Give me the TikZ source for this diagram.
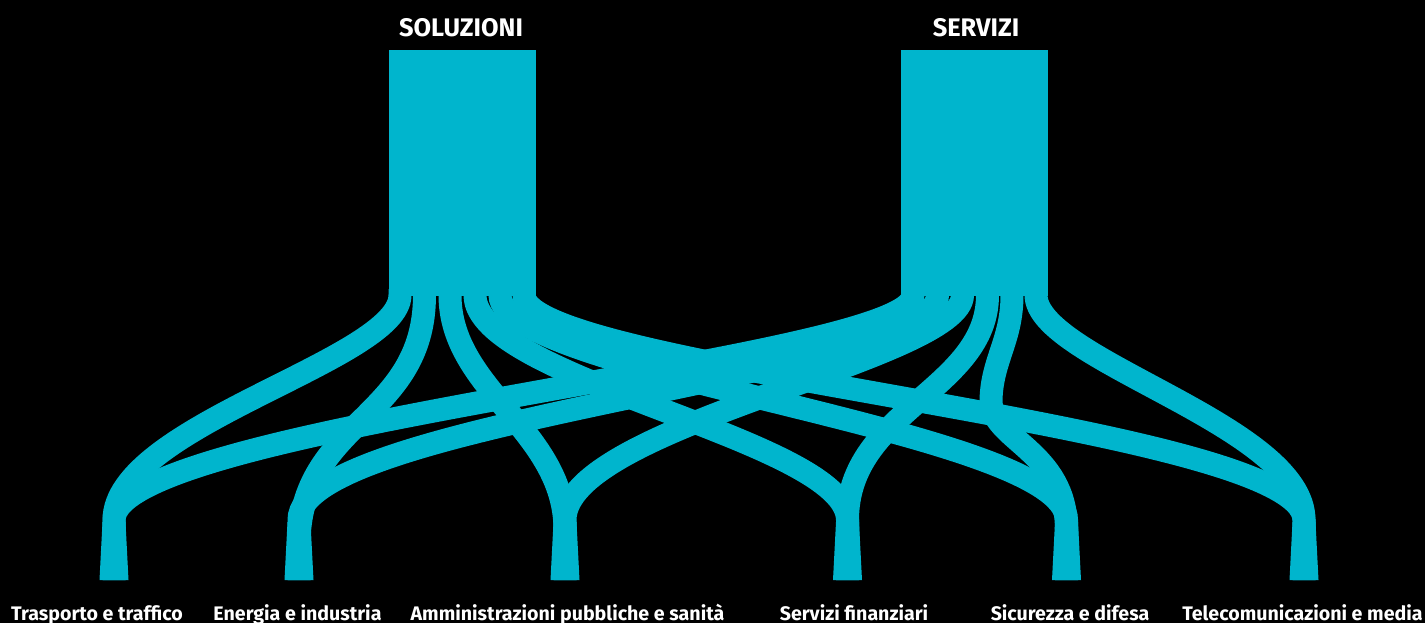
\documentclass[tikz,border=0pt]{standalone}
\usepackage{fontspec}
\setmainfont{Fira Sans}
\usetikzlibrary{calc}
\definecolor{flowcol}{RGB}{0,181,205}
\begin{document}
\begin{tikzpicture}[x=1pt,y=-1pt,
  flow/.style={draw=flowcol, line width=23pt},
  block/.style={fill=flowcol, inner sep=0pt, minimum width=146.5pt, minimum height=246pt},
  title/.style={text=white, font=\bfseries\fontsize{25.4}{25.4}\selectfont, anchor=base, inner sep=0pt},
  label/.style={text=white, font=\bfseries\fontsize{19.6}{19.6}\selectfont, anchor=base, inner sep=0pt},
  stem/.style={fill=flowcol}]
\fill[black] (0,0) rectangle (1425,623);
\useasboundingbox (0,0) rectangle (1425,623);
% blocks
\node[block] (sol) at (462.25,173) {};
\node[block] (ser) at (974.5,173) {};
\node[title] (tsol) at (461,37) {SOLUZIONI};
\node[title] (tser) at (976,37) {SERVIZI};
% slots
\coordinate (s1) at (400,295);
\coordinate (s2) at (424.5,295);
\coordinate (s3) at (450,295);
\coordinate (s4) at (475,295);
\coordinate (s5) at (500,295);
\coordinate (s6) at (524,295);
\coordinate (r1) at (913,295);
\coordinate (r2) at (937.5,295);
\coordinate (r3) at (962.5,295);
\coordinate (r4) at (987.5,295);
\coordinate (r5) at (1012,295);
\coordinate (r6) at (1036,295);
% targets
\coordinate (t1) at (114,580);
\coordinate (t2) at (299,580);
\coordinate (t3) at (565,580);
\coordinate (t4) at (847.5,580);
\coordinate (t5) at (1066.5,580);
\coordinate (t6) at (1304,580);
\coordinate (b5mid) at (991,400);
% links from SOLUZIONI
\draw[flow] ($(s1)+(0,-6)$) -- (s1) .. controls +(0,65) and +(0,-95) .. ($(t1)+(0,-60)$) -- (t1);
\draw[flow] ($(s2)+(0,-6)$) -- (s2) .. controls +(0,125) and +(0,-125) .. ($(t2)+(0,-35)$) -- (t2);
\draw[flow] ($(s3)+(0,-6)$) -- (s3) .. controls +(0,95) and +(0,-100) .. ($(t3)+(0,-50)$) -- (t3);
\draw[flow] ($(s4)+(0,-6)$) -- (s4) .. controls +(0,85) and +(0,-80) .. ($(t4)+(0,-60)$) -- (t4);
\draw[flow] ($(s5)+(0,-6)$) -- (s5) .. controls +(0,80) and +(0,-90) .. ($(t5)+(0,-60)$) -- (t5);
\draw[flow] ($(s6)+(0,-6)$) -- (s6) .. controls +(0,75) and +(0,-95) .. ($(t6)+(0,-60)$) -- (t6);
% links from SERVIZI
\draw[flow] ($(r1)+(0,-6)$) -- (r1) .. controls +(0,65) and +(0,-95) .. ($(t1)+(0,-60)$) -- (t1);
\draw[flow] ($(r2)+(0,-6)$) -- (r2) .. controls +(0,80) and +(0,-100) .. ($(t2)+(0,-60)$) -- (t2);
\draw[flow] ($(r3)+(0,-6)$) -- (r3) .. controls +(0,65) and +(0,-95) .. ($(t3)+(0,-60)$) -- (t3);
\draw[flow] ($(r4)+(0,-6)$) -- (r4) .. controls +(0,95) and +(0,-110) .. ($(t4)+(0,-60)$) -- (t4);
\draw[flow] ($(r5)+(0,-6)$) -- (r5) .. controls +(0,45) and +(1,-40) .. (b5mid) .. controls +(-1,40) and +(0,-80) .. ($(t5)+(0,-50)$) -- (t5);
\draw[flow] ($(r6)+(0,-6)$) -- (r6) .. controls +(0,65) and +(0,-95) .. ($(t6)+(0,-60)$) -- (t6);
% stems (slight flare at the foot)
\foreach \t in {t1,t2,t3,t4,t5,t6}{
  \fill[stem] ($(\t)+(-14.5,0)$) -- ($(\t)+(14.5,0)$) -- ($(\t)+(11.5,-58)$) -- ($(\t)+(-11.5,-58)$) -- cycle;
}
% labels
\node[label] (l1) at (97,620) {Trasporto e traffico};
\node[label] (l2) at (297.5,620) {Energia e industria};
\node[label] (l3) at (567.5,620) {Amministrazioni pubbliche e sanità};
\node[label] (l4) at (854,620) {Servizi finanziari};
\node[label] (l5) at (1070,620) {Sicurezza e difesa};
\node[label] (l6) at (1302.5,620) {Telecomunicazioni e media};
\end{tikzpicture}
\end{document}
